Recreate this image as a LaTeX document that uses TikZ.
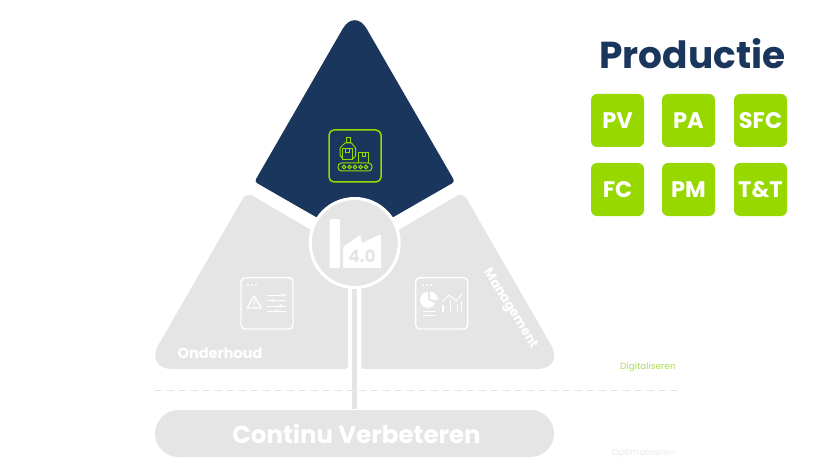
\documentclass[tikz,border=0pt]{standalone}
\usepackage{fontspec}
\setmainfont{Poppins}
\definecolor{navy}{HTML}{1A365D}
\definecolor{lime}{HTML}{96D800}
\definecolor{panel}{HTML}{E5E5E5}
\definecolor{digi}{HTML}{ABDF50}
\definecolor{opti}{HTML}{EAEAEA}
\definecolor{dashc}{HTML}{E3E3E3}
\tikzset{
  tile/.style={fill=lime,rounded corners=6pt,minimum width=53pt,minimum height=53pt,inner sep=0pt,text=white,font=\bfseries\fontsize{22.5}{22.5}\selectfont},
  iconw/.style={draw=white,line width=1.4pt,rounded corners=4pt},
  thinw/.style={draw=white,line width=0.9pt},
  thing/.style={draw=lime,line width=1pt},
  panellabel/.style={text=white,font=\bfseries\fontsize{14.5}{14.5}\selectfont,inner sep=0pt},
}
\begin{document}
\begin{tikzpicture}[x=1pt,y=-1pt]
\useasboundingbox (0,0) rectangle (840,473);
% top triangle
\fill[navy] (316,217) [rounded corners=3pt] -- (254.5,181.7) [rounded corners=24pt] -- (354.7,8) [rounded corners=3pt] -- (454.9,181.7) [sharp corners] -- (393.4,217) -- cycle;
% lower panels
\fill[panel] (340,247) [rounded corners=7pt] -- (246.5,192.2) [rounded corners=28pt] -- (144.5,369) [rounded corners=3pt] -- (348,369) [sharp corners] -- (348,247) -- cycle;
\fill[panel] (369.4,247) [rounded corners=7pt] -- (462.9,192.2) [rounded corners=28pt] -- (564.9,369) [rounded corners=3pt] -- (361.4,369) [sharp corners] -- (361.4,247) -- cycle;
% dashed rule
\coordinate (dashL) at (155,390);
\coordinate (dashR) at (677,390);
\draw[dashc,line width=0.8pt,dash pattern=on 7pt off 5pt] (dashL) -- (dashR);
% pill
\node[fill=panel,rounded corners=23.5pt,minimum width=399pt,minimum height=47pt,inner sep=0pt,text=white,font=\bfseries\fontsize{24.5}{24.5}\selectfont] (pill) at (354.5,433.5) {\hspace{4pt}Continu Verbeteren};
% hub
\node[circle,fill=panel,draw=white,line width=3pt,minimum size=89pt,inner sep=0pt] (hub) at (354.7,243) {};
\coordinate (stemEnd) at (354.7,409);
\draw[panel,line width=5pt] (hub.south) -- (stemEnd);
% factory
\fill[white,rounded corners=1.5pt] (329.5,219) rectangle (340,268);
\fill[white,rounded corners=1pt] (343,268) -- (343,247) -- (360,235) -- (362,243) -- (381,234) -- (381,268) -- cycle;
\node[text=panel,font=\bfseries\fontsize{17}{17}\selectfont,inner sep=0pt] (fourzero) at (362,256.5) {4.0};
% production icon
\draw[thing,line width=1.5pt,rounded corners=5pt] (329,130) rectangle (381,182);
\draw[thing,rounded corners=3.5pt] (338,163) rectangle (372,171);
\foreach \cx in {344,349.6,355,360.6,366} \draw[thing] (\cx,167) circle (1.8pt);
\draw[thing] (358.7,163) -- (358.7,153) -- (368.3,153) -- (368.3,163);
\draw[thing] (362,153) -- (362,157) -- (365,157) -- (365,153);
\draw[thing] (342,149) -- (352.7,149) -- (352.7,160) -- (342,160) -- cycle;
\draw[thing] (345.5,149) -- (345.5,153) -- (349,153) -- (349,149);
\draw[thing] (346.5,143) -- (346.5,138) -- (350,138) -- (350,143) -- cycle;
\draw[thing] (345,143) -- (351.5,143) -- (355.5,148) -- (355.5,156) -- (352.7,159);
\draw[thing] (345,143) -- (340,148) -- (340,155) -- (342,158);
% maintenance icon
\draw[iconw] (241,277.7) rectangle (293,329);
\foreach \cx in {248,252,256} \fill[white] (\cx,285) circle (1.1pt);
\draw[thinw,line join=round,line width=1.2pt] (254,296) -- (261.5,308) -- (247,308) -- cycle;
\draw[white,line width=1.2pt] (254.2,300) -- (254.2,304);
\fill[white] (254.2,306) circle (0.6pt);
\foreach \ly/\kx in {295/283,300.5/273,306/281,311/277} {
  \draw[thinw,line width=0.7pt] (267,\ly) -- (286,\ly);
  \draw[white,line width=0.7pt,fill=panel] (\kx,\ly) circle (1.4pt);
}
% management icon
\draw[iconw] (415.7,277.7) rectangle (467.7,329);
\foreach \cx in {423,427,431} \fill[white] (\cx,285) circle (1.1pt);
\fill[white] (428,300) -- (428,292) arc[start angle=90,end angle=335,radius=8pt] -- cycle;
\fill[white] (430,299) -- (430,291.5) arc[start angle=90,end angle=-10,radius=7.5pt] -- cycle;
\draw[thinw,line width=1pt] (423,311) -- (435,311);
\draw[thinw,line width=1pt] (423,315) -- (435,315);
\foreach \bx/\by in {443/305,450.5/300,457.5/305,461.5/301} \draw[white,line width=1.6pt] (\bx,\by) -- (\bx,312);
\draw[thinw,line width=0.9pt] (443,301) -- (449,295) -- (456,301) -- (462,294);
% labels
\node[panellabel] (onderhoud) at (220,353.5) {Onderhoud};
\node[panellabel,font=\bfseries\fontsize{13}{13}\selectfont,rotate=-58] (management) at (510,309) {Management};
\node[text=digi,font=\fontsize{9}{9}\selectfont,inner sep=0pt] (digital) at (648,367) {Digitaliseren};
\node[text=opti,font=\fontsize{9}{9}\selectfont,inner sep=0pt] (optim) at (643.5,453) {Optimaliseren};
% title and tiles
\node[text=navy,font=\bfseries\fontsize{37.5}{37.5}\selectfont,inner sep=0pt] (title) at (692.5,54) {Productie};
\node[tile] (pv) at (617.5,120.5) {PV};
\node[tile] (pa) at (688.5,120.5) {PA};
\node[tile] (sfc) at (760.5,120.5) {SFC};
\node[tile] (fc) at (617.5,189.5) {FC};
\node[tile] (pm) at (688.5,189.5) {PM};
\node[tile] (tt) at (760.5,189.5) {T\&T};
\end{tikzpicture}
\end{document}
